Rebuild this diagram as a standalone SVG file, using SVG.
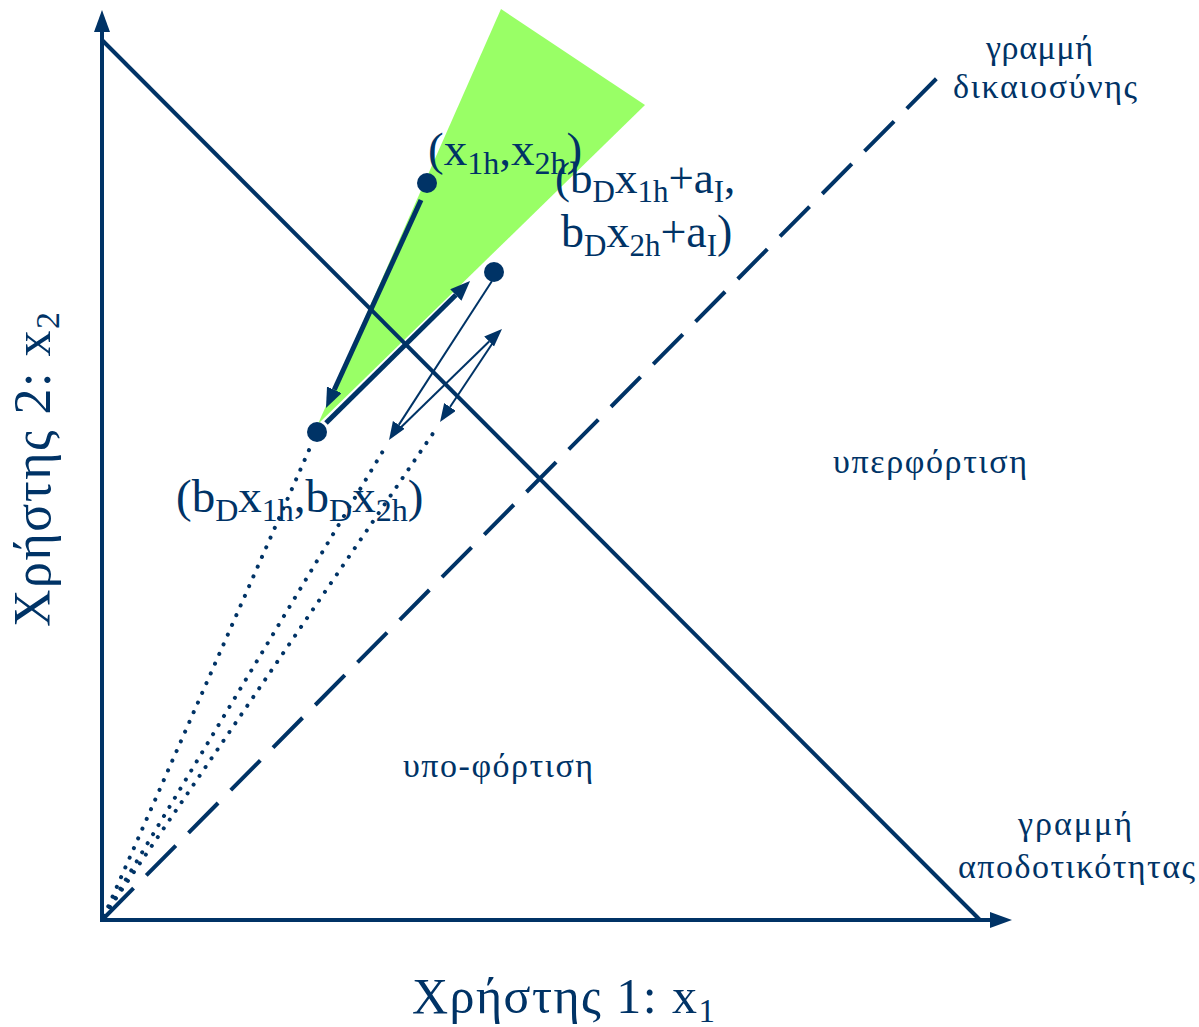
<svg xmlns="http://www.w3.org/2000/svg" width="1199" height="1027" viewBox="0 0 1199 1027">
<style>
.ln{stroke:#003366;fill:none}
.t{font-family:"Liberation Serif","Times New Roman",serif;fill:#003366}
.dot{fill:#003366}
</style>
<defs>
<marker id="axh" markerUnits="userSpaceOnUse" markerWidth="24" markerHeight="18" refX="0" refY="8" orient="auto"><path d="M0,0 L22,8 L0,16 z" fill="#003366"/></marker>
<marker id="thk" markerUnits="userSpaceOnUse" markerWidth="22" markerHeight="18" refX="0" refY="8" orient="auto"><path d="M0,0 L20,8 L0,16 z" fill="#003366"/></marker>
<marker id="thn" markerUnits="userSpaceOnUse" markerWidth="20" markerHeight="16" refX="0" refY="7" orient="auto"><path d="M0,0 L18,7 L0,14 z" fill="#003366"/></marker>
</defs>
<rect width="1199" height="1027" fill="#fff"/>
<g id="region">
<polygon points="501,9 645,105 318,424" fill="#99FF66"/>
</g>
<g id="connectors">
<line class="ln" x1="102" y1="922" x2="102" y2="32" stroke-width="4" marker-end="url(#axh)"/>
<line class="ln" x1="100" y1="920" x2="990" y2="920" stroke-width="4" marker-end="url(#axh)"/>
<line class="ln" x1="102" y1="40" x2="980" y2="920" stroke-width="4"/>
<line class="ln" x1="104" y1="918" x2="947" y2="68" stroke-width="4" stroke-dasharray="42 18"/>
<g stroke-width="4" stroke-linecap="round" stroke-dasharray="0.1 10.5">
<line class="ln" x1="104" y1="916" x2="313" y2="441"/>
<line class="ln" x1="104" y1="916" x2="386" y2="446"/>
<line class="ln" x1="104" y1="916" x2="436" y2="429"/>
</g>
<line class="ln" x1="421" y1="200" x2="334.3" y2="389.8" stroke-width="5" marker-end="url(#thk)"/>
<line class="ln" x1="326" y1="423" x2="455.8" y2="295" stroke-width="5" marker-end="url(#thk)"/>
<line class="ln" x1="492" y1="281" x2="398.8" y2="424.9" stroke-width="2" marker-end="url(#thn)"/>
<line class="ln" x1="392" y1="436" x2="489.1" y2="341.5" stroke-width="2" marker-end="url(#thn)"/>
<line class="ln" x1="496" y1="338" x2="450" y2="407" stroke-width="2" marker-end="url(#thn)"/>
</g>
<g id="pointA">
<circle class="dot" cx="427" cy="183" r="10"/>
<text class="t" x="428" y="165" font-size="47">(x<tspan font-size="32" dy="9">1h</tspan><tspan dy="-9">,x</tspan><tspan font-size="32" dy="9">2h</tspan><tspan dy="-9">)</tspan></text>
</g>
<g id="pointB">
<circle class="dot" cx="494" cy="272" r="10"/>
<text class="t" x="555" y="193" font-size="45">(b<tspan font-size="31" dy="9">D</tspan><tspan dy="-9">x</tspan><tspan font-size="31" dy="9">1h</tspan><tspan dy="-9">+a</tspan><tspan font-size="31" dy="9">I</tspan><tspan dy="-9">,</tspan></text>
<text class="t" x="561" y="247" font-size="46">b<tspan font-size="31" dy="9">D</tspan><tspan dy="-9">x</tspan><tspan font-size="31" dy="9">2h</tspan><tspan dy="-9">+a</tspan><tspan font-size="31" dy="9">I</tspan><tspan dy="-9">)</tspan></text>
</g>
<g id="pointC">
<circle class="dot" cx="317" cy="432" r="10"/>
<text class="t" x="176" y="512" font-size="47">(b<tspan font-size="32" dy="9">D</tspan><tspan dy="-9">x</tspan><tspan font-size="32" dy="9">1h</tspan><tspan dy="-9">,b</tspan><tspan font-size="32" dy="9">D</tspan><tspan dy="-9">x</tspan><tspan font-size="32" dy="9">2h</tspan><tspan dy="-9">)</tspan></text>
</g>
<g id="labels">
<text class="t" x="412" y="1013" font-size="50" textLength="303">Χρήστης 1: x<tspan font-size="33" dy="9">1</tspan></text>
<text class="t" transform="translate(50,627) rotate(-90)" font-size="52" textLength="315">Χρήστης  2: x<tspan font-size="34" dy="9">2</tspan></text>
<text class="t" x="986" y="59" font-size="34" textLength="107">γραμμή</text>
<text class="t" x="953" y="98" font-size="34" textLength="184">δικαιοσύνης</text>
<text class="t" x="1018" y="835" font-size="34" textLength="114">γραμμή</text>
<text class="t" x="958" y="878" font-size="34" textLength="237">αποδοτικότητας</text>
<text class="t" x="403" y="777" font-size="34" textLength="190">υπο-φόρτιση</text>
<text class="t" x="833" y="473" font-size="34" textLength="194">υπερφόρτιση</text>
</g>
</svg>
